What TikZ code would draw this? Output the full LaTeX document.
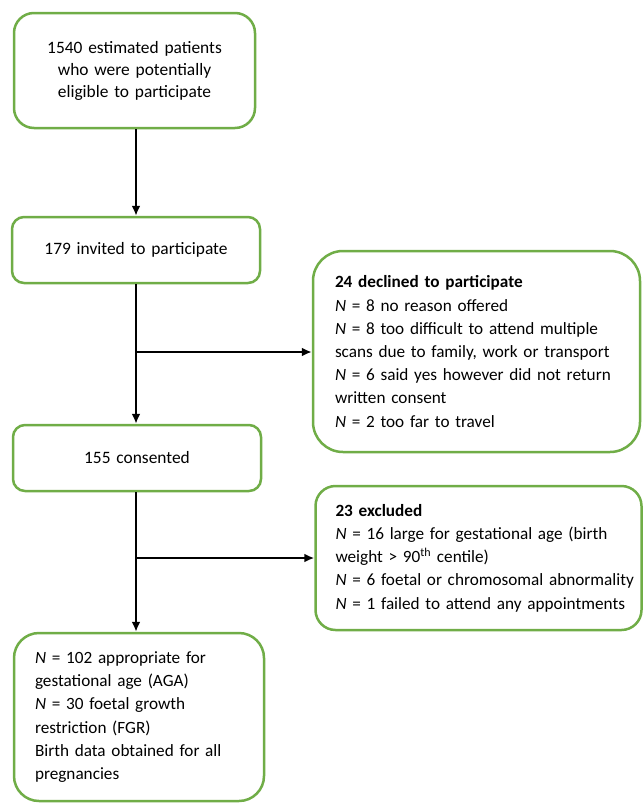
\documentclass[tikz,border=0pt]{standalone}
\usepackage{fontspec}
\setmainfont{Carlito}
\usetikzlibrary{positioning, arrows.meta, calc}

\begin{document}
\begin{tikzpicture}[x=1pt,y=-1pt]
		\definecolor{boxgreen}{RGB}{112,173,71}
		\tikzstyle{box} = [draw=boxgreen, line width=2.5pt, fill=white, rounded corners=14pt, font={\fontsize{17.2}{23.2}\selectfont}, inner ysep=0pt]
		\tikzstyle{stealth} = [-{Latex[length=10pt,width=9pt]}, line width=2pt]
		\useasboundingbox (0,0) rectangle (643,803);
		\node [box, rounded corners=20pt, minimum height=115pt, text width=221pt, inner xsep=10pt, align=center, font={\fontsize{17.4}{22}\selectfont}] (v1) at (134.5,70.5) {1540 estimated patients\\who were potentially\\eligible to participate};
		\node [box, rounded corners=12pt, minimum height=66pt, text width=228pt, inner xsep=10pt, align=center, font={\fontsize{17.4}{22}\selectfont}] (v2) at (136,250) {179 invited to participate};
		\node [box, rounded corners=30pt, minimum height=201pt, text width=283pt, inner xsep=22pt, align=left] (v3) at (476.5,351.5) {\textbf{24 declined to participate}\\\textit{N} = 8 no reason offered\\\textit{N} = 8 too difficult to attend multiple\\\mbox{scans due to family, work or transport}\\\textit{N} = 6 said yes however did not return\\written consent\\\textit{N} = 2 too far to travel};
		\node [box, rounded corners=12pt, minimum height=66pt, text width=228pt, inner xsep=10pt, align=center, font={\fontsize{17.4}{22}\selectfont}] (v4) at (137,458) {155 consented};
		\node [box, rounded corners=20pt, minimum height=144pt, text width=286pt, inner xsep=20pt, align=left] (v5) at (478.5,558) {\textbf{23 excluded}\\\mbox{\textit{N} = 16 large for gestational age (birth}\\weight > 90\textsuperscript{th} centile)\\\mbox{\textit{N} = 6 foetal or chromosomal abnormality}\\\mbox{\textit{N} = 1 failed to attend any appointments}};
		\node [box, rounded corners=25pt, minimum height=168pt, text width=208pt, inner xsep=21pt, align=left] (v6) at (139,717) {\textit{N} = 102 appropriate for\\gestational age (AGA)\\\textit{N} = 30 foetal growth\\restriction (FGR)\\Birth data obtained for all\\pregnancies};
		\coordinate (v7) at (136,352);
		\coordinate (v8) at (136,558);
		\draw [stealth] (v1.south -| v7) -- (v2.north -| v7);
		\draw [stealth] (v2.south -| v7) -- (v4.north -| v7);
		\draw [stealth] (v7) -- (v3.west |- v7);
		\draw [stealth] (v4.south -| v8) -- (v6.north -| v8);
		\draw [stealth] (v8) -- (v5.west |- v8);
\end{tikzpicture}
\end{document}
